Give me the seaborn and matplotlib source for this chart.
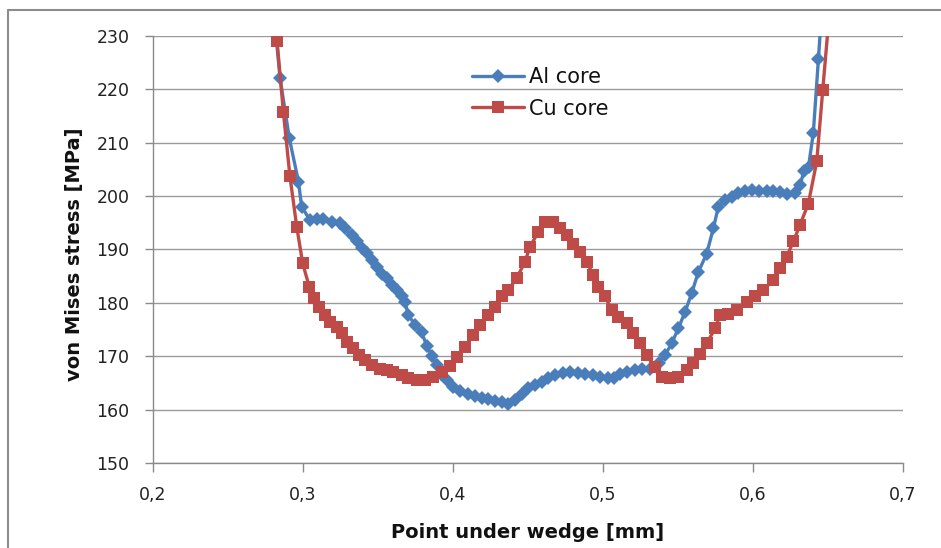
import matplotlib
matplotlib.use("Agg")
import matplotlib.pyplot as plt
from matplotlib.lines import Line2D
import seaborn as sns
import pandas as pd

# ---------------- data ----------------
al_x = [0.2800, 0.2847, 0.2909, 0.2970, 0.2991, 0.3047, 0.3091, 0.3136, 0.3191, 0.3247,
        0.3280, 0.3324, 0.3358, 0.3391, 0.3424, 0.3458, 0.3491, 0.3524, 0.3558, 0.3591,
        0.3624, 0.3658, 0.3680, 0.3702, 0.3747, 0.3790, 0.3825, 0.3860, 0.3890, 0.3920,
        0.3958, 0.4002, 0.4047, 0.4102, 0.4147, 0.4191, 0.4236, 0.4280, 0.4324, 0.4369,
        0.4413, 0.4458, 0.4502, 0.4547, 0.4591, 0.4636, 0.4680, 0.4736, 0.4780, 0.4830,
        0.4880, 0.4936, 0.4980, 0.5030, 0.5070, 0.5113, 0.5160, 0.5210, 0.5260, 0.5313,
        0.5370, 0.5413, 0.5458, 0.5502, 0.5547, 0.5591, 0.5636, 0.5691, 0.5736, 0.5769,
        0.5813, 0.5858, 0.5902, 0.5947, 0.5991, 0.6040, 0.6090, 0.6136, 0.6180, 0.6224,
        0.6280, 0.6313, 0.6340, 0.6370, 0.6402, 0.6436, 0.6470]
al_y = [236.0, 222.1, 210.8, 202.7, 198.0, 195.5, 195.8, 195.8, 195.2, 194.9,
        194.0, 192.7, 191.5, 190.2, 189.3, 188.0, 186.8, 185.5, 184.6, 183.3,
        182.4, 181.2, 180.2, 177.7, 175.9, 174.5, 172.0, 170.0, 168.3, 166.7,
        165.6, 164.3, 163.4, 162.9, 162.6, 162.2, 161.9, 161.6, 161.5, 161.0,
        161.8, 163.0, 164.0, 164.6, 165.2, 165.9, 166.4, 166.8, 167.0, 166.8,
        166.6, 166.4, 166.2, 165.9, 166.0, 166.6, 167.1, 167.4, 167.6, 167.6,
        168.7, 170.2, 172.4, 175.2, 178.3, 181.8, 185.8, 189.2, 194.0, 198.0,
        199.3, 199.9, 200.5, 201.0, 201.2, 201.0, 201.0, 201.0, 200.8, 200.4,
        200.6, 202.0, 204.7, 205.5, 211.8, 225.6, 240.0]

cu_x = [0.2827, 0.2869, 0.2913, 0.2958, 0.2998, 0.3042, 0.3073, 0.3109, 0.3147, 0.3180,
        0.3224, 0.3258, 0.3290, 0.3336, 0.3370, 0.3413, 0.3458, 0.3513, 0.3558, 0.3602,
        0.3658, 0.3702, 0.3758, 0.3813, 0.3869, 0.3924, 0.3980, 0.4024, 0.4080, 0.4136,
        0.4180, 0.4236, 0.4280, 0.4324, 0.4369, 0.4424, 0.4480, 0.4513, 0.4569, 0.4613,
        0.4669, 0.4713, 0.4758, 0.4802, 0.4847, 0.4891, 0.4936, 0.4969, 0.5013, 0.5058,
        0.5102, 0.5158, 0.5202, 0.5247, 0.5291, 0.5347, 0.5391, 0.5447, 0.5502, 0.5558,
        0.5602, 0.5647, 0.5691, 0.5747, 0.5780, 0.5836, 0.5891, 0.5958, 0.6013, 0.6069,
        0.6136, 0.6180, 0.6224, 0.6269, 0.6313, 0.6369, 0.6425, 0.6465, 0.6505]
cu_y = [229.1, 215.8, 203.7, 194.3, 187.4, 183.0, 180.9, 179.2, 177.7, 176.5,
        175.5, 174.3, 172.7, 171.5, 170.2, 169.3, 168.4, 167.7, 167.4, 167.1,
        166.5, 165.9, 165.6, 165.6, 166.2, 167.1, 168.2, 169.9, 171.8, 174.0,
        175.9, 177.7, 179.3, 181.2, 182.4, 184.6, 187.7, 190.5, 193.3, 195.2,
        195.2, 194.0, 192.7, 191.1, 189.6, 187.7, 185.2, 183.0, 181.2, 178.7,
        177.4, 176.2, 174.3, 172.4, 170.2, 167.9, 166.2, 165.9, 166.2, 167.4,
        168.7, 170.5, 172.4, 175.2, 177.7, 178.0, 178.7, 180.2, 181.2, 182.4,
        184.3, 186.5, 188.6, 191.5, 194.6, 198.6, 206.5, 219.9, 233.0]

series_names = ["Al core", "Cu core"]
x_ticks = [0.2, 0.3, 0.4, 0.5, 0.6, 0.7]
x_tick_labels = ["0,2", "0,3", "0,4", "0,5", "0,6", "0,7"]
y_ticks = [150, 160, 170, 180, 190, 200, 210, 220, 230]
x_label = "Point under wedge [mm]"
y_label = "von Mises stress [MPa]"

# ---------------- figure ----------------
sns.set_style("white")
plt.rcParams["font.family"] = ["DejaVu Sans"]

W, H = 941, 548
fig = plt.figure(figsize=(W / 100, H / 100), dpi=100)
ax = fig.add_axes([153 / W, 1 - 463 / H, 750 / W, 427 / H])

blue = "#4A7EBB"
red = "#BE4B48"

df_al = pd.DataFrame({"x": al_x, "y": al_y})
df_cu = pd.DataFrame({"x": cu_x, "y": cu_y})

sns.lineplot(data=df_al, x="x", y="y", ax=ax, sort=False, color=blue, linewidth=2.4,
             marker="D", markersize=7.2, markeredgewidth=0, markerfacecolor=blue,
             label=series_names[0], zorder=3)
sns.lineplot(data=df_cu, x="x", y="y", ax=ax, sort=False, color=red, linewidth=2.4,
             marker="s", markersize=8.6, markeredgewidth=0, markerfacecolor=red,
             label=series_names[1], zorder=4)

ax.set_xlim(0.2, 0.7)
ax.set_ylim(150, 230)
ax.set_xticks(x_ticks)
ax.set_xticklabels(x_tick_labels)
ax.set_yticks(y_ticks)
ax.set_yticklabels([str(v) for v in y_ticks])

grid_c = "#9a9a9a"
ax.yaxis.grid(True, color=grid_c, linewidth=1.0)
ax.xaxis.grid(False)
ax.set_axisbelow(True)

for s in ["top", "right"]:
    ax.spines[s].set_visible(False)
for s in ["left", "bottom"]:
    ax.spines[s].set_color("#8a8a8a")
    ax.spines[s].set_linewidth(1.0)

ax.tick_params(axis="y", which="major", direction="out", length=6, width=1,
               color="#8a8a8a", labelsize=12.5, pad=11, labelcolor="#222222", left=True)
ax.tick_params(axis="x", which="major", direction="out", length=6.5, width=1,
               color="#8a8a8a", labelsize=12.5, pad=10, labelcolor="#222222", bottom=True)

ax.set_xlabel(x_label, fontsize=14, fontweight="bold", color="#111111")
ax.set_ylabel(y_label, fontsize=14, fontweight="bold", color="#111111")
ax.xaxis.label.set_va("center")
ax.yaxis.label.set_va("center")
ax.xaxis.set_label_coords(0.5, -(533 - 463) / 427)
ax.yaxis.set_label_coords((75 - 153) / 750, 0.49)

leg = ax.legend(loc="center", bbox_to_anchor=((540 - 153) / 750, 1 - (93 - 36) / 427),
                frameon=False, fontsize=15, handlelength=2.5, handletextpad=0.25,
                labelspacing=0.55, borderpad=0)
for t in leg.get_texts():
    t.set_color("#111111")

# outer chart border (top and left visible)
bc = "#8c8c8c"
fig.add_artist(Line2D([7.5 / W, 7.5 / W], [0, 1 - 9.5 / H], transform=fig.transFigure,
                      color=bc, linewidth=1.5))
fig.add_artist(Line2D([7.5 / W, 1], [1 - 9.5 / H, 1 - 9.5 / H], transform=fig.transFigure,
                      color=bc, linewidth=1.5))

fig.savefig("out.png", dpi=100, facecolor="white")
